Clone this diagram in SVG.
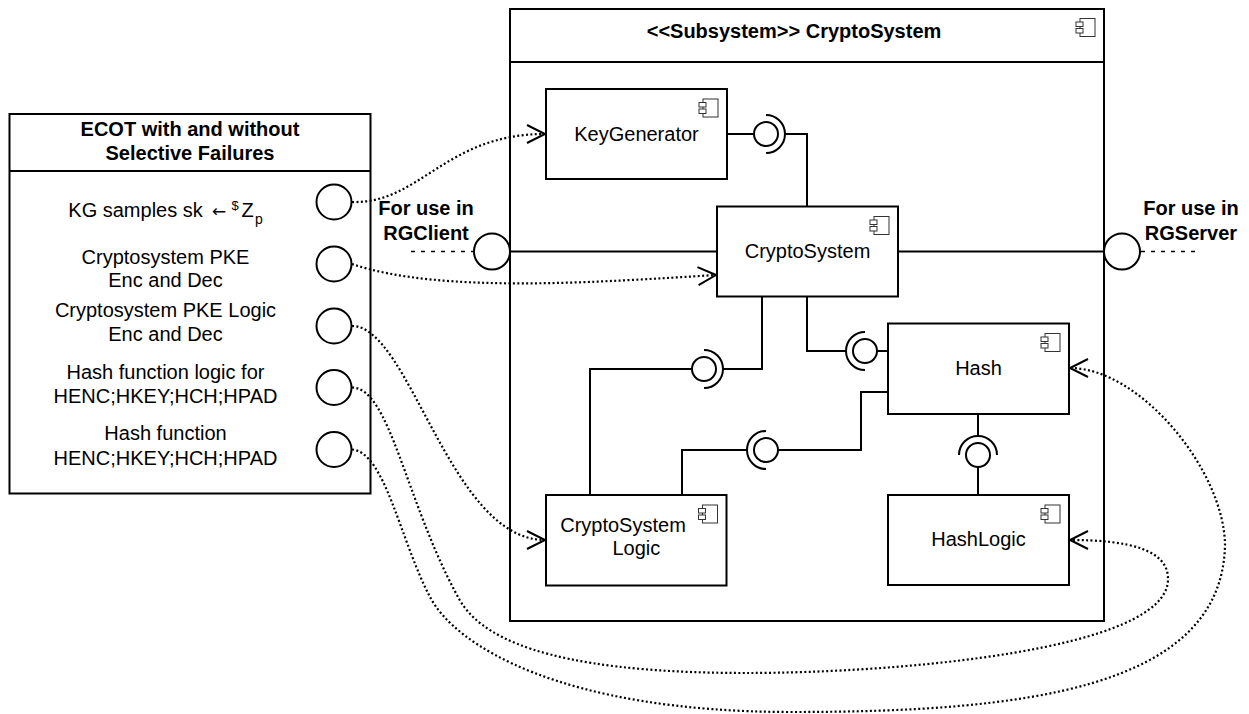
<svg xmlns="http://www.w3.org/2000/svg" width="1249" height="714" viewBox="0 0 1249 714">
  <style>
    .box{fill:#fff;stroke:#000;stroke-width:2}
    .line{fill:none;stroke:#000;stroke-width:2}
    .ball{fill:#fff;stroke:#000;stroke-width:2}
    .dot{fill:none;stroke:#000;stroke-width:2.2;stroke-dasharray:2 2.4}
    .dash{fill:none;stroke:#000;stroke-width:1.6;stroke-dasharray:4 6}
    .port{fill:#fff;stroke:#000;stroke-width:2}
    .icon{fill:#fff;stroke:#333;stroke-width:1}
    text{font-family:"Liberation Sans",Arial,Helvetica,sans-serif;font-size:20px;fill:#000}
    .c{text-anchor:middle}
    .b{font-weight:bold}
  </style>
  <defs>
    <!-- UML component glyph: body with two tabs -->
    <g id="cmp-icon">
      <rect x="4" y="0" width="15" height="18"/>
      <rect x="0" y="3.5" width="7" height="4.5"/>
      <rect x="0" y="10" width="7" height="4.5"/>
    </g>
    <marker id="open-arrow" viewBox="-21 -11 23 22" refX="0" refY="0" markerWidth="23" markerHeight="22" markerUnits="userSpaceOnUse" orient="auto" overflow="visible">
      <path d="M-18,-9 L0,0 L-18,9" fill="none" stroke="#000" stroke-width="2" stroke-dasharray="none"/>
    </marker>
  </defs>

  <!-- Test component with its ports -->
  <g id="ecot">
    <rect class="box" x="9.5" y="114" width="361" height="379.5"/>
    <line class="line" x1="9.5" y1="171" x2="370.5" y2="171"/>
    <text class="c b" x="190" y="136">ECOT with and without</text>
    <text class="c b" x="190" y="159.5">Selective Failures</text>

    <text x="68.3" y="217">KG samples sk</text>
    <text x="212" y="217" style="font-family:'DejaVu Sans',sans-serif;font-size:17px">←</text>
    <text x="231.5" y="210" style="font-size:13px">$</text>
    <text x="241.5" y="217">Z</text>
    <text x="255" y="223.5" style="font-size:14px">p</text>

    <text class="c" x="165.5" y="264">Cryptosystem PKE</text>
    <text class="c" x="165.5" y="287">Enc and Dec</text>
    <text class="c" x="165.5" y="317.3">Cryptosystem PKE Logic</text>
    <text class="c" x="165.5" y="341">Enc and Dec</text>
    <text class="c" x="165.5" y="379.3">Hash function logic for</text>
    <text class="c" x="165.5" y="403">HENC;HKEY;HCH;HPAD</text>
    <text class="c" x="165.5" y="440">Hash function</text>
    <text class="c" x="165.5" y="464.5">HENC;HKEY;HCH;HPAD</text>

    <circle class="port" cx="334" cy="202" r="17.5"/>
    <circle class="port" cx="334" cy="264" r="17.5"/>
    <circle class="port" cx="334" cy="326" r="17.5"/>
    <circle class="port" cx="334" cy="387.5" r="17.5"/>
    <circle class="port" cx="334" cy="449.5" r="17.5"/>
  </g>

  <!-- Subsystem container -->
  <g id="subsystem-cryptosystem">
    <rect class="box" x="510" y="9" width="594" height="612"/>
    <line class="line" x1="510" y1="62" x2="1104" y2="62"/>
    <text class="c b" x="794" y="38">&lt;&lt;Subsystem&gt;&gt; CryptoSystem</text>
    <use href="#cmp-icon" class="icon" x="1076" y="18.5"/>
  </g>

  <g id="keygenerator">
    <rect class="box" x="546" y="89" width="181" height="90"/>
    <text class="c" x="636.5" y="141">KeyGenerator</text>
    <use href="#cmp-icon" class="icon" x="699" y="99"/>
  </g>

  <g id="cryptosystem">
    <rect class="box" x="717" y="206.5" width="181" height="90"/>
    <text class="c" x="807.5" y="258">CryptoSystem</text>
    <use href="#cmp-icon" class="icon" x="870" y="216.5"/>
  </g>

  <g id="hash">
    <rect class="box" x="888" y="323.5" width="181" height="90.5"/>
    <text class="c" x="978.5" y="375">Hash</text>
    <use href="#cmp-icon" class="icon" x="1041" y="333.5"/>
  </g>

  <g id="cryptosystem-logic">
    <rect class="box" x="546" y="495" width="180.5" height="90.5"/>
    <text class="c" x="623" y="531.5">CryptoSystem</text>
    <text class="c" x="636.3" y="555">Logic</text>
    <use href="#cmp-icon" class="icon" x="698.5" y="505"/>
  </g>

  <g id="hashlogic">
    <rect class="box" x="888" y="495" width="181" height="90"/>
    <text class="c" x="978.5" y="546">HashLogic</text>
    <use href="#cmp-icon" class="icon" x="1041" y="505"/>
  </g>

  <!-- External ports of the subsystem -->
  <g id="port-rgclient">
    <line class="dash" x1="411" y1="251.5" x2="473" y2="251.5"/>
    <circle class="port" cx="492" cy="251.5" r="18"/>
    <text class="c b" x="426" y="215">For use in</text>
    <text class="c b" x="426" y="240">RGClient</text>
  </g>

  <g id="port-rgserver">
    <line class="dash" x1="1141" y1="251.5" x2="1196" y2="251.5"/>
    <circle class="port" cx="1122" cy="251.5" r="18"/>
    <text class="c b" x="1191" y="215">For use in</text>
    <text class="c b" x="1191" y="240">RGServer</text>
  </g>

  <g id="connectors">
    <!-- delegation from ports to CryptoSystem -->
    <path class="line" d="M510,251.5 H717"/>
    <path class="line" d="M898,251.5 H1104"/>

    <!-- KeyGenerator provides, CryptoSystem requires -->
    <path class="line" d="M727,134 H754"/>
    <path class="line" d="M785,134 H807 V206.5"/>
    <circle class="ball" cx="766" cy="134" r="12"/>
    <path class="line" d="M766,115 A19,19 0 0 1 766,153"/>

    <!-- Hash provides, CryptoSystem requires -->
    <path class="line" d="M807,296.5 V351 H846"/>
    <path class="line" d="M877,351 H888"/>
    <circle class="ball" cx="865" cy="351" r="12"/>
    <path class="line" d="M865,332 A19,19 0 0 0 865,370"/>

    <!-- CryptoSystem Logic provides, CryptoSystem requires -->
    <path class="line" d="M762,296.5 V369 H723"/>
    <path class="line" d="M692,369 H590 V495"/>
    <circle class="ball" cx="704" cy="369" r="12"/>
    <path class="line" d="M704,350 A19,19 0 0 1 704,388"/>

    <!-- Hash provides, CryptoSystem Logic requires -->
    <path class="line" d="M888,392 H861 V450 H778"/>
    <path class="line" d="M747,450 H682 V495"/>
    <circle class="ball" cx="766" cy="450" r="12"/>
    <path class="line" d="M766,431 A19,19 0 0 0 766,469"/>

    <!-- HashLogic provides, Hash requires -->
    <path class="line" d="M978,414 V436"/>
    <path class="line" d="M978,467 V495"/>
    <circle class="ball" cx="978" cy="455" r="12"/>
    <path class="line" d="M959,455 A19,19 0 0 1 997,455"/>

    <!-- test ports to tested components -->
    <path class="dot" marker-end="url(#open-arrow)" d="M352,202 C420,204 445,134 545,134"/>
    <path class="dot" marker-end="url(#open-arrow)" d="M352,264 C440,294 600,282 716,275"/>
    <path class="dot" marker-end="url(#open-arrow)" d="M352,326 C410,326 450,540 545,540"/>
    <path class="dot" marker-end="url(#open-arrow)" d="M352,387.5 C390,388 405,500 458,597 C478,635 540,673 746,673 C900,673 1166,650 1168,580 C1169,550 1130,540 1070,540"/>
    <path class="dot" marker-end="url(#open-arrow)" d="M352,449.5 C385,452 400,540 430,597 C455,645 560,712 792,712 C1020,712 1222,690 1225,545 C1224,470 1140,368 1070,368"/>
  </g>
</svg>
